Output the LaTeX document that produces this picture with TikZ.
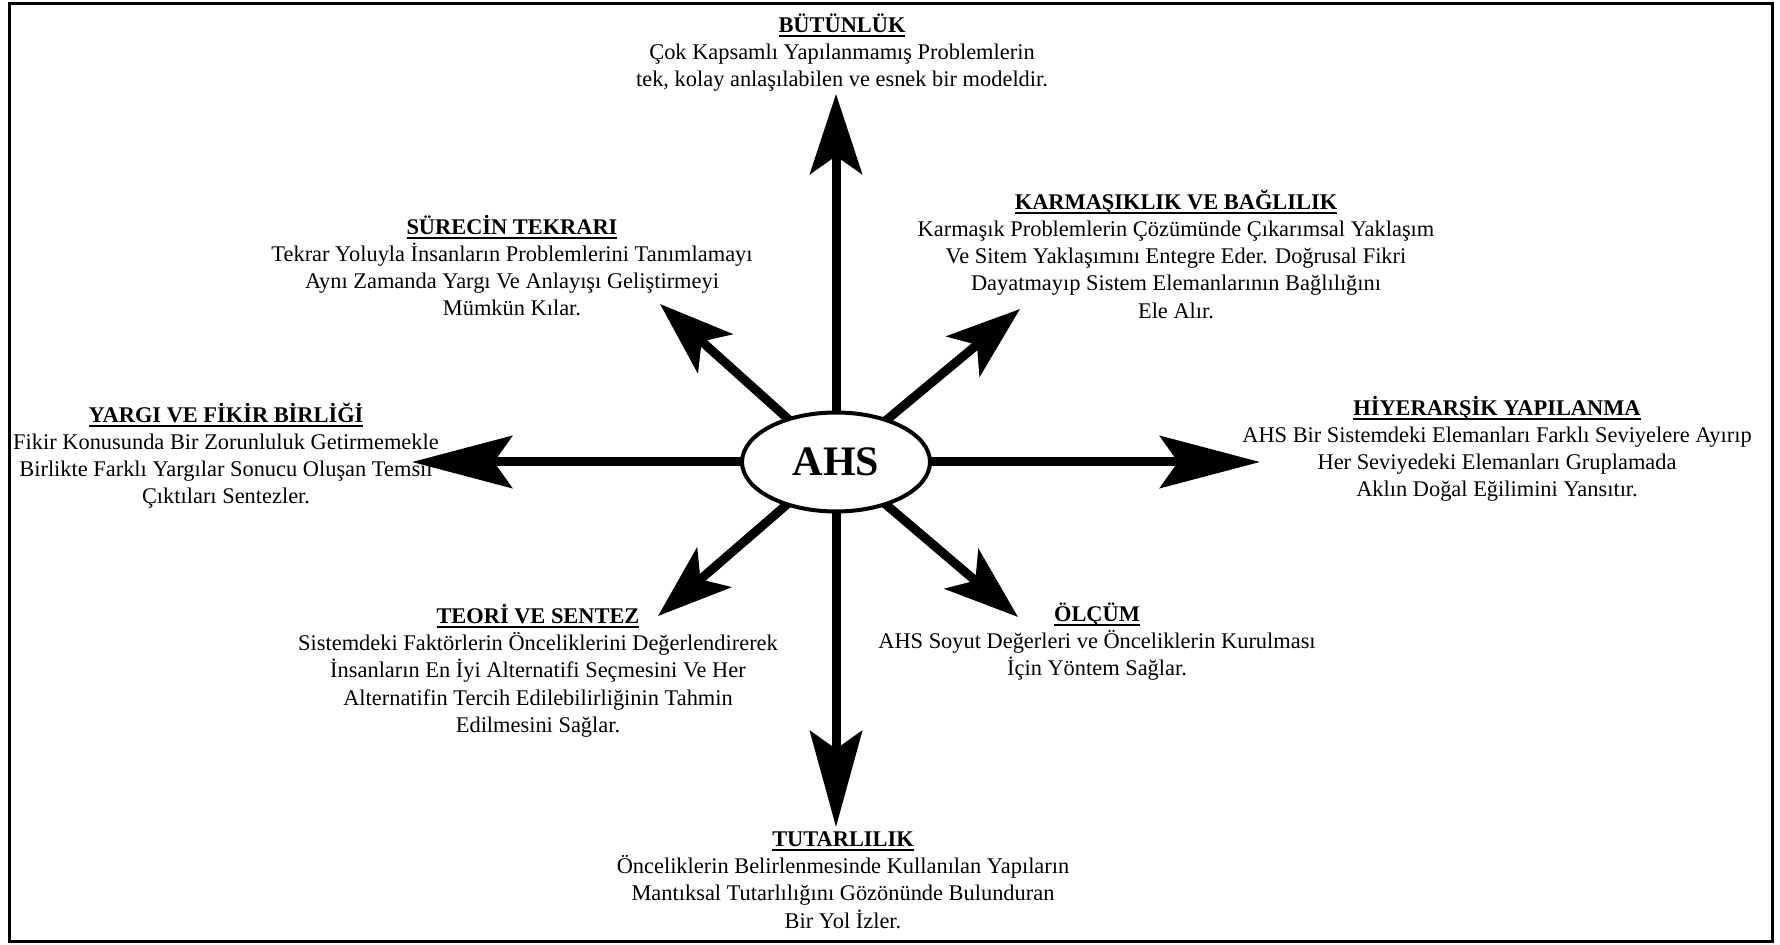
\documentclass[tikz,border=0pt]{standalone}
\usepackage{fontspec}
\setmainfont{Liberation Serif}
\usetikzlibrary{shapes.geometric,arrows.meta,positioning,backgrounds}
\newlength{\bw}
\newcommand{\baslik}[1]{\settowidth{\bw}{\textbf{#1}}%
  \rule{0pt}{11pt}\textbf{#1}\llap{\rule[-2.2pt]{\bw}{0.9pt}}}
\tikzset{
  hub/.style={ellipse,draw=black,line width=2pt,fill=white,
    minimum width=94pt,minimum height=49.5pt,inner sep=0pt,
    font=\fontsize{21}{25}\selectfont\bfseries},
  info/.style={align=center,inner sep=0pt,anchor=north,
    font=\fontsize{11.2}{13.6}\selectfont},
  spoke/.style={line width=4.5pt,-{Stealth[length=#1,width=26pt,inset=9pt]}},
  spoke/.default=50pt,
  frame/.style={line width=1.5pt}
}

\begin{document}
\begin{tikzpicture}[x=0.5pt,y=-0.5pt]
  \useasboundingbox (0,0) rectangle (1780,945);
  \draw[frame] (9,4) rectangle (1772,941);

  \node[hub] (ahs) at (836,462) {AHS};

  % ok uclari
  \coordinate (tN) at (836,94);
  \coordinate (tS) at (836,827);
  \coordinate (tW) at (412,462);
  \coordinate (tE) at (1260,462);
  \coordinate (tNW) at (660,304);
  \coordinate (tNE) at (1020,309);
  \coordinate (tSW) at (658,616);
  \coordinate (tSE) at (1018,617);

  \begin{scope}[on background layer]
    \draw[spoke=40pt] (ahs.center) -- (tN);
    \draw[spoke=48pt] (ahs.center) -- (tS);
    \draw[spoke] (ahs.center) -- (tW);
    \draw[spoke] (ahs.center) -- (tE);
    \draw[spoke=37pt] (ahs.center) -- (tNW);
    \draw[spoke=37pt] (ahs.center) -- (tNE);
    \draw[spoke=37pt] (ahs.center) -- (tSW);
    \draw[spoke=37pt] (ahs.center) -- (tSE);
  \end{scope}

  % baslik taban cizgisi - 22
  \node[info] (btn) at (842,10) {\baslik{BÜTÜNLÜK}\\
    Çok Kapsamlı Yapılanmamış Problemlerin\\
    tek, kolay anlaşılabilen ve esnek bir modeldir.};
  \node[info] (src) at (512,212) {\baslik{SÜRECİN TEKRARI}\\
    Tekrar Yoluyla İnsanların Problemlerini Tanımlamayı\\
    Aynı Zamanda Yargı Ve Anlayışı Geliştirmeyi\\
    Mümkün Kılar.};
  \node[info] (krm) at (1176,187) {\baslik{KARMAŞIKLIK VE BAĞLILIK}\\
    Karmaşık Problemlerin Çözümünde Çıkarımsal Yaklaşım\\
    Ve Sitem Yaklaşımını Entegre Eder. Doğrusal Fikri\\
    Dayatmayıp Sistem Elemanlarının Bağlılığını\\
    Ele Alır.};
  \node[info] (yrg) at (226,400) {\baslik{YARGI VE FİKİR BİRLİĞİ}\\
    Fikir Konusunda Bir Zorunluluk Getirmemekle\\
    Birlikte Farklı Yargılar Sonucu Oluşan Temsil\\
    Çıktıları Sentezler.};
  \node[info] (hyr) at (1497,393) {\baslik{HİYERARŞİK YAPILANMA}\\
    AHS Bir Sistemdeki Elemanları Farklı Seviyelere Ayırıp\\
    Her Seviyedeki Elemanları Gruplamada\\
    Aklın Doğal Eğilimini Yansıtır.};
  \node[info] (teo) at (538,601) {\baslik{TEORİ VE SENTEZ}\\
    Sistemdeki Faktörlerin Önceliklerini Değerlendirerek\\
    İnsanların En İyi Alternatifi Seçmesini Ve Her\\
    Alternatifin Tercih Edilebilirliğinin Tahmin\\
    Edilmesini Sağlar.};
  \node[info] (olc) at (1097,599) {\baslik{ÖLÇÜM}\\
    AHS Soyut Değerleri ve Önceliklerin Kurulması\\
    İçin Yöntem Sağlar.};
  \node[info] (ttr) at (843,824) {\baslik{TUTARLILIK}\\
    Önceliklerin Belirlenmesinde Kullanılan Yapıların\\
    Mantıksal Tutarlılığını Gözönünde Bulunduran\\
    Bir Yol İzler.};
\end{tikzpicture}
\end{document}
